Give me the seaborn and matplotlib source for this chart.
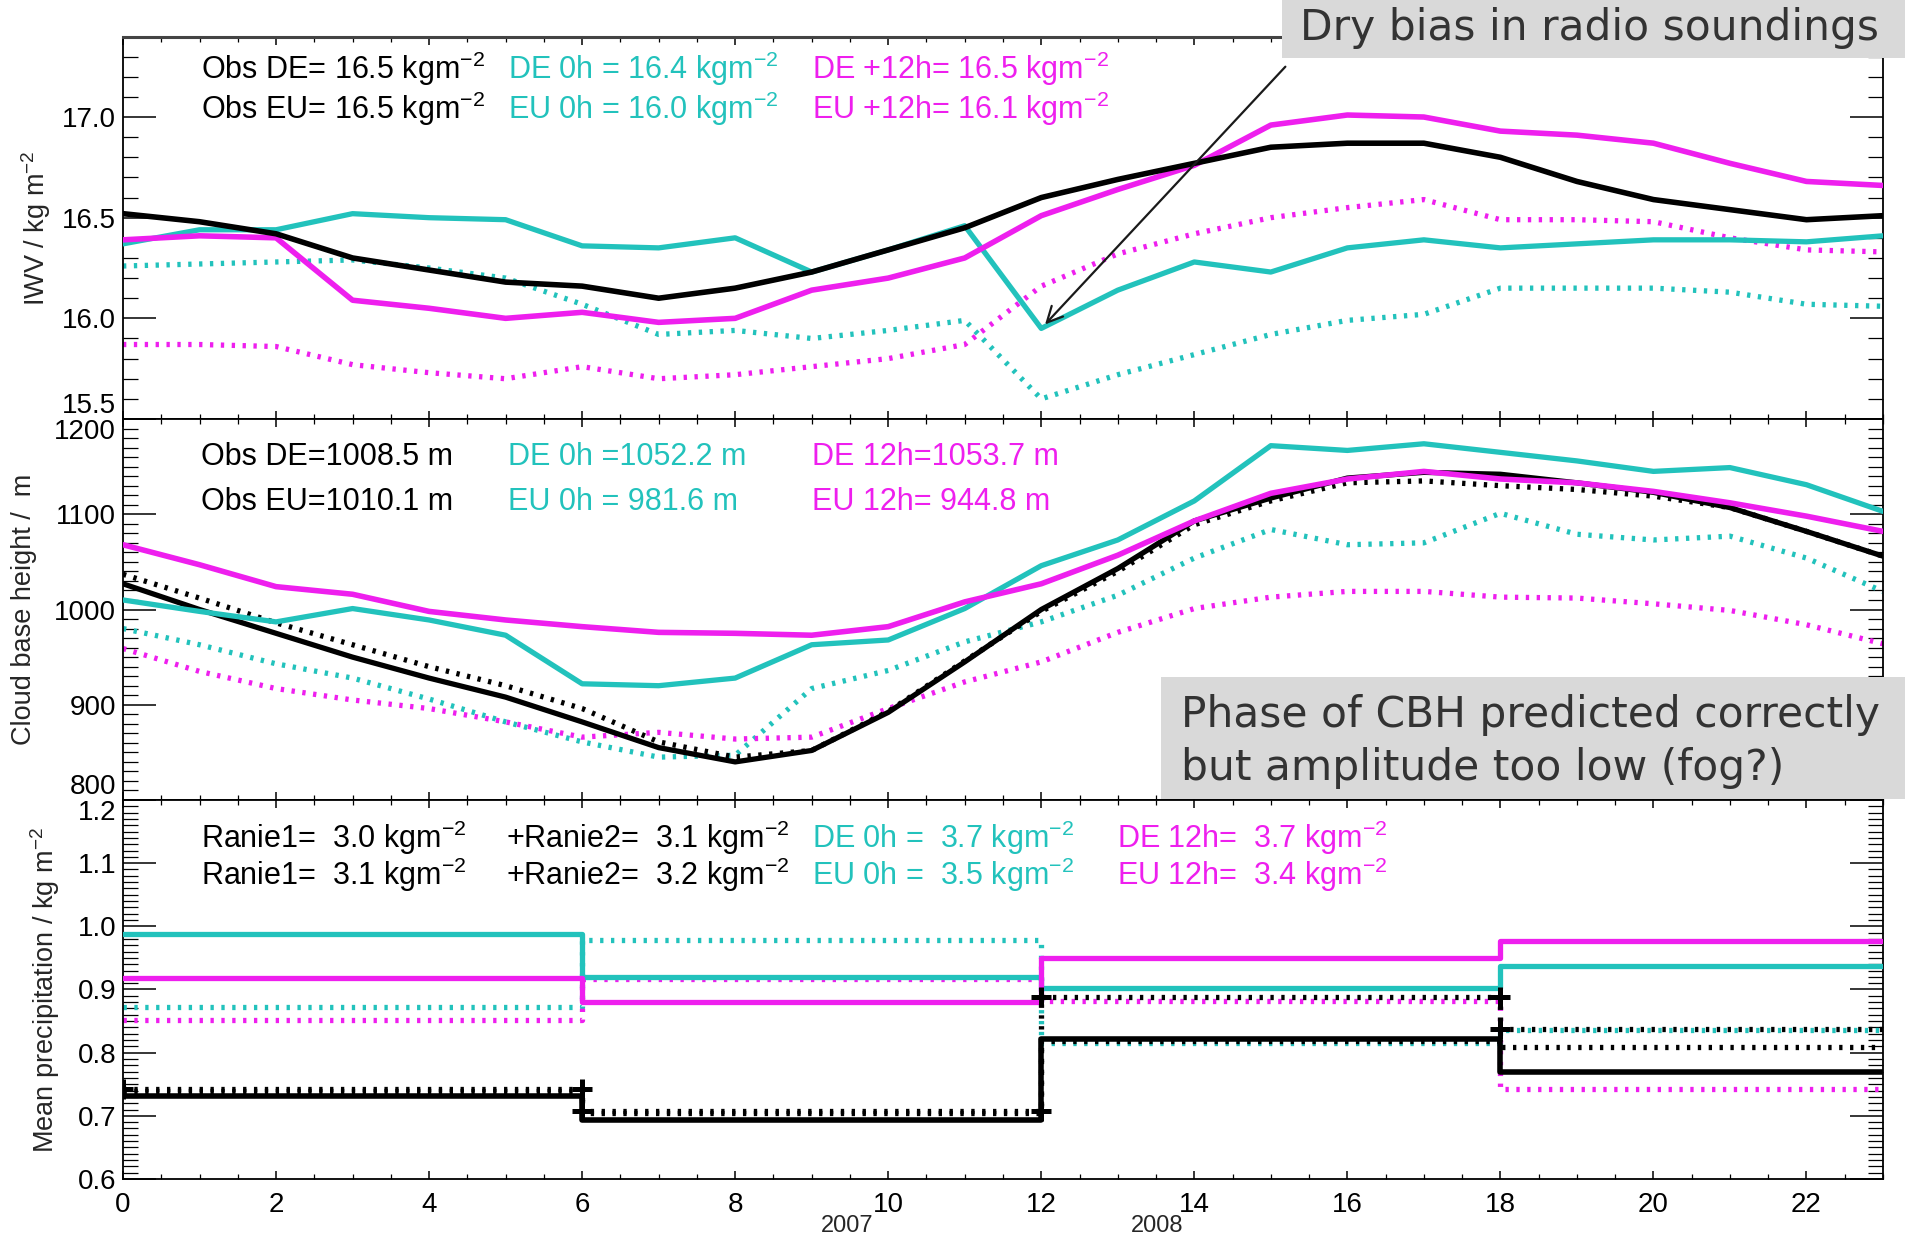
import matplotlib
matplotlib.use('Agg')
import matplotlib.pyplot as plt
import seaborn as sns
from matplotlib.patches import Rectangle
from matplotlib.ticker import MultipleLocator, FormatStrFormatter

# ---------------- data ----------------
hours = list(range(24))

# Integrated water vapour (kg m-2)
iwv_obs_de = [16.52, 16.48, 16.42, 16.30, 16.24, 16.18, 16.16, 16.10, 16.15, 16.23, 16.34, 16.45,
              16.60, 16.69, 16.77, 16.85, 16.87, 16.87, 16.80, 16.68, 16.59, 16.54, 16.49, 16.51]
iwv_de_0h = [16.37, 16.44, 16.44, 16.52, 16.50, 16.49, 16.36, 16.35, 16.40, 16.23, 16.34, 16.46,
             15.95, 16.14, 16.28, 16.23, 16.35, 16.39, 16.35, 16.37, 16.39, 16.39, 16.38, 16.41]
iwv_de_12h = [16.39, 16.41, 16.40, 16.09, 16.05, 16.00, 16.03, 15.98, 16.00, 16.14, 16.20, 16.30,
              16.51, 16.64, 16.76, 16.96, 17.01, 17.00, 16.93, 16.91, 16.87, 16.77, 16.68, 16.66]
iwv_eu_0h = [16.26, 16.27, 16.28, 16.29, 16.25, 16.20, 16.07, 15.92, 15.94, 15.90, 15.94, 15.99,
             15.60, 15.72, 15.82, 15.92, 15.99, 16.02, 16.15, 16.15, 16.15, 16.13, 16.07, 16.06]
iwv_eu_12h = [15.87, 15.87, 15.86, 15.77, 15.73, 15.70, 15.76, 15.70, 15.72, 15.76, 15.80, 15.87,
              16.16, 16.32, 16.42, 16.50, 16.55, 16.59, 16.49, 16.49, 16.48, 16.40, 16.34, 16.33]

# Cloud base height (m)
cbh_obs_de = [1027, 1000, 975, 950, 928, 908, 882, 855, 840, 852, 892, 945,
              1000, 1043, 1093, 1117, 1138, 1144, 1142, 1133, 1123, 1107, 1082, 1056]
cbh_obs_eu = [1037, 1012, 986, 963, 940, 920, 896, 861, 845, 852, 893, 946,
              998, 1040, 1089, 1114, 1133, 1135, 1130, 1126, 1119, 1107, 1082, 1056]
cbh_de_0h = [1010, 998, 987, 1001, 989, 973, 922, 920, 928, 963, 968, 1001,
             1046, 1073, 1114, 1172, 1167, 1174, 1165, 1156, 1145, 1149, 1131, 1103]
cbh_de_12h = [1068, 1047, 1024, 1016, 998, 989, 982, 976, 975, 973, 982, 1008,
              1027, 1057, 1093, 1122, 1137, 1145, 1137, 1133, 1124, 1112, 1098, 1082]
cbh_eu_0h = [980, 963, 943, 928, 906, 882, 861, 845, 847, 917, 936, 966,
             987, 1015, 1054, 1084, 1068, 1070, 1101, 1079, 1073, 1077, 1054, 1019]
cbh_eu_12h = [959, 935, 917, 905, 896, 882, 866, 871, 864, 866, 896, 924,
              945, 976, 1001, 1013, 1019, 1019, 1013, 1012, 1006, 999, 984, 964]

# Mean precipitation per 6-hour block (kg m-2)
block_edges = [0, 6, 12, 18, 23]
pr_ranie1 = [0.732, 0.694, 0.821, 0.770]
pr_ranie2 = [0.742, 0.708, 0.888, 0.837]
pr_ranie_eu = [0.740, 0.705, 0.818, 0.809]
pr_de_0h = [0.988, 0.920, 0.902, 0.937]
pr_eu_0h = [0.872, 0.979, 0.815, 0.836]
pr_de_12h = [0.918, 0.881, 0.950, 0.976]
pr_eu_12h = [0.852, 0.917, 0.882, 0.742]

iwv_ticks = [15.5, 16.0, 16.5, 17.0]
cbh_ticks = [800, 900, 1000, 1100, 1200]
pr_ticks = [0.6, 0.7, 0.8, 0.9, 1.0, 1.1, 1.2]

iwv_labels = [["Obs DE= 16.5 kgm$^{-2}$", "DE 0h = 16.4 kgm$^{-2}$", "DE +12h= 16.5 kgm$^{-2}$"],
              ["Obs EU= 16.5 kgm$^{-2}$", "EU 0h = 16.0 kgm$^{-2}$", "EU +12h= 16.1 kgm$^{-2}$"]]
cbh_labels = [["Obs DE=1008.5 m", "DE 0h =1052.2 m", "DE 12h=1053.7 m"],
              ["Obs EU=1010.1 m", "EU 0h = 981.6 m", "EU 12h= 944.8 m"]]
pr_labels = [["Ranie1=  3.0 kgm$^{-2}$", "+Ranie2=  3.1 kgm$^{-2}$", "DE 0h =  3.7 kgm$^{-2}$", "DE 12h=  3.7 kgm$^{-2}$"],
             ["Ranie1=  3.1 kgm$^{-2}$", "+Ranie2=  3.2 kgm$^{-2}$", "EU 0h =  3.5 kgm$^{-2}$", "EU 12h=  3.4 kgm$^{-2}$"]]
year_labels = ["2007", "2008"]
year_pos = [9.46, 13.52]

# ---------------- style ----------------
sns.set_theme(style='ticks')
plt.rcParams['font.family'] = ['Liberation Sans', 'DejaVu Sans']
plt.rcParams['mathtext.fontset'] = 'custom'
plt.rcParams['mathtext.rm'] = 'Liberation Sans'
plt.rcParams['mathtext.it'] = 'Liberation Sans:italic'
plt.rcParams['mathtext.bf'] = 'Liberation Sans:bold'

CYAN = '#22c2bc'
MAG = '#ee1fee'
BLK = '#000000'
DOT = (0, (0.63, 1.43))

fig = plt.figure(figsize=(19.06, 12.40), dpi=100)
fig.patch.set_facecolor('white')
L, W = 123 / 1906, 1760 / 1906
ax1 = fig.add_axes([L, 1 - 419 / 1240, W, 382.5 / 1240])
ax2 = fig.add_axes([L, 1 - 800 / 1240, W, 381 / 1240], sharex=ax1)
ax3 = fig.add_axes([L, 1 - 1179 / 1240, W, 379 / 1240], sharex=ax1)


def line(ax, y, color, ls='-', lw=3.6, z=3):
    sns.lineplot(x=hours, y=y, ax=ax, color=color, linestyle=ls, linewidth=lw, zorder=z)


def steps(ax, vals, color, ls='-', lw=3.6, z=3):
    yv = list(vals) + [vals[-1]]
    sns.lineplot(x=block_edges, y=yv, ax=ax, color=color, linestyle=ls, linewidth=lw,
                 drawstyle='steps-post', zorder=z)


# top panel
line(ax1, iwv_eu_0h, CYAN, DOT, 3.8, 2)
line(ax1, iwv_eu_12h, MAG, DOT, 3.8, 2)
line(ax1, iwv_de_0h, CYAN, '-', 3.8, 3)
line(ax1, iwv_de_12h, MAG, '-', 4.0, 3)
line(ax1, iwv_obs_de, BLK, '-', 4.0, 4)

# middle panel
line(ax2, cbh_eu_0h, CYAN, DOT, 3.8, 2)
line(ax2, cbh_eu_12h, MAG, DOT, 3.8, 2)
line(ax2, cbh_obs_eu, BLK, DOT, 3.8, 2)
line(ax2, cbh_obs_de, BLK, '-', 3.8, 3)
line(ax2, cbh_de_0h, CYAN, '-', 3.8, 3)
line(ax2, cbh_de_12h, MAG, '-', 4.0, 4)

# bottom panel
steps(ax3, pr_eu_0h, CYAN, DOT, 3.8, 2)
steps(ax3, pr_eu_12h, MAG, DOT, 3.8, 2)
steps(ax3, pr_de_0h, CYAN, '-', 3.8, 3)
steps(ax3, pr_de_12h, MAG, '-', 3.8, 3)
steps(ax3, pr_ranie_eu, BLK, DOT, 3.8, 4)
steps(ax3, pr_ranie2, BLK, DOT, 3.8, 4)
steps(ax3, pr_ranie1, BLK, '-', 4.0, 5)
mk_x = block_edges[:3] + block_edges[1:4]
mk_y = pr_ranie2[:3] + pr_ranie2[:3]
sns.scatterplot(x=mk_x + [18], y=mk_y + [pr_ranie2[3]], ax=ax3, marker='+', s=200,
                linewidth=3.6, color=BLK, zorder=6)

# axes formatting
for ax in (ax1, ax2, ax3):
    ax.set_xlim(0, 23)
    ax.xaxis.set_major_locator(MultipleLocator(2))
    ax.xaxis.set_minor_locator(MultipleLocator(0.5))
    ax.tick_params(which='both', direction='in', top=True, right=True, colors='black',
                   labelsize=20, labelcolor='black')
    ax.tick_params(axis='y', which='major', length=24, width=1.1, pad=5)
    ax.tick_params(axis='y', which='minor', length=11, width=0.9)
    ax.tick_params(axis='x', which='major', length=6, width=1.1, pad=9)
    ax.tick_params(axis='x', which='minor', length=3.5, width=0.9)
    for sp in ax.spines.values():
        sp.set_color('black')
        sp.set_linewidth(1.3)
    ax.set_facecolor('white')
    ax.set_xlabel('')

ax1.tick_params(labelbottom=False)
ax2.tick_params(labelbottom=False)
ax1.spines['top'].set_linewidth(2.2)
ax1.spines['top'].set_color('#444444')

ax1.set_ylim(15.5, 17.4)
ax1.set_yticks(iwv_ticks)
ax1.yaxis.set_minor_locator(MultipleLocator(0.1))
ax1.yaxis.set_major_formatter(FormatStrFormatter('%.1f'))

ax2.set_ylim(800, 1200)
ax2.set_yticks(cbh_ticks)
ax2.yaxis.set_minor_locator(MultipleLocator(10))

ax3.set_ylim(0.6, 1.2)
ax3.set_yticks(pr_ticks)
ax3.yaxis.set_minor_locator(MultipleLocator(0.01))
ax3.yaxis.set_major_formatter(FormatStrFormatter('%.1f'))

ax1.set_ylabel('IWV / kg m$^{-2}$', fontsize=19.5, va='center')
ax1.yaxis.set_label_coords(-0.0494, 0.5)
ax2.set_ylabel('Cloud base height /  m', fontsize=19.5, va='center')
ax2.yaxis.set_label_coords(-0.0565, 0.5)
ax3.set_ylabel('Mean precipitation / kg m$^{-2}$', fontsize=19.5, va='center')
ax3.yaxis.set_label_coords(-0.0440, 0.5)

# in-panel statistics text
cols3 = [0.0441, 0.2188, 0.3915]
colors3 = [BLK, CYAN, MAG]
for r, yy in enumerate([0.915, 0.812]):
    for c in range(3):
        ax1.text(cols3[c], yy, iwv_labels[r][c], color=colors3[c], transform=ax1.transAxes,
                 fontsize=22, va='center', ha='left', zorder=8)
for r, yy in enumerate([0.900, 0.782]):
    for c in range(3):
        ax2.text(cols3[c], yy, cbh_labels[r][c], color=colors3[c], transform=ax2.transAxes,
                 fontsize=22, va='center', ha='left', zorder=8)
cols4 = [0.0441, 0.2175, 0.3915, 0.5648]
colors4 = [BLK, BLK, CYAN, MAG]
for r, yy in enumerate([0.901, 0.802]):
    for c in range(4):
        ax3.text(cols4[c], yy, pr_labels[r][c], color=colors4[c], transform=ax3.transAxes,
                 fontsize=22, va='center', ha='left', zorder=8)

# year labels under the axis (kept fully inside the figure)
for lbl, xp in zip(year_labels, year_pos):
    ax3.text(xp, 1 - 1237 / 1240, lbl, transform=ax3.get_xaxis_text1_transform(0)[0] if False else
             matplotlib.transforms.blended_transform_factory(ax3.transData, fig.transFigure),
             fontsize=17, ha='center', va='bottom', clip_on=False)

# arrow
ax1.annotate('', xy=(12.05, 15.97), xytext=(15.19, 17.25), xycoords='data',
             arrowprops=dict(arrowstyle='->', color='#1a1a1a', lw=1.6, mutation_scale=28,
                             shrinkA=0, shrinkB=0), annotation_clip=False, zorder=9)

# grey comment boxes
BOXC = '#d9d9d9'
TXTC = '#333333'
fig.add_artist(Rectangle((1282 / 1906, 1 - 58 / 1240), 624 / 1906, 58 / 1240,
                         transform=fig.transFigure, facecolor=BOXC, edgecolor='none', zorder=20))
fig.text(1300 / 1906, 1 - 40 / 1240, 'Dry bias in radio soundings', family='DejaVu Sans',
         fontsize=30.5, color=TXTC, ha='left', va='baseline', zorder=21)
fig.add_artist(Rectangle((1161 / 1906, 1 - 799 / 1240), 745 / 1906, 122 / 1240,
                         transform=fig.transFigure, facecolor=BOXC, edgecolor='none', zorder=20))
fig.text(1181 / 1906, 1 - 727 / 1240, 'Phase of CBH predicted correctly', family='DejaVu Sans',
         fontsize=30.5, color=TXTC, ha='left', va='baseline', zorder=21)
fig.text(1181 / 1906, 1 - 780 / 1240, 'but amplitude too low (fog?)', family='DejaVu Sans',
         fontsize=30.5, color=TXTC, ha='left', va='baseline', zorder=21)

# keep the labels at the shared panel edges apart (as in the reference)
fig.canvas.draw()
ax1.yaxis.get_major_ticks()[0].label1.set_va('bottom')
ax2.yaxis.get_major_ticks()[-1].label1.set_va('top')
ax2.yaxis.get_major_ticks()[0].label1.set_va('bottom')
ax3.yaxis.get_major_ticks()[-1].label1.set_va('top')

fig.savefig('out.png', dpi=100, facecolor='white')
